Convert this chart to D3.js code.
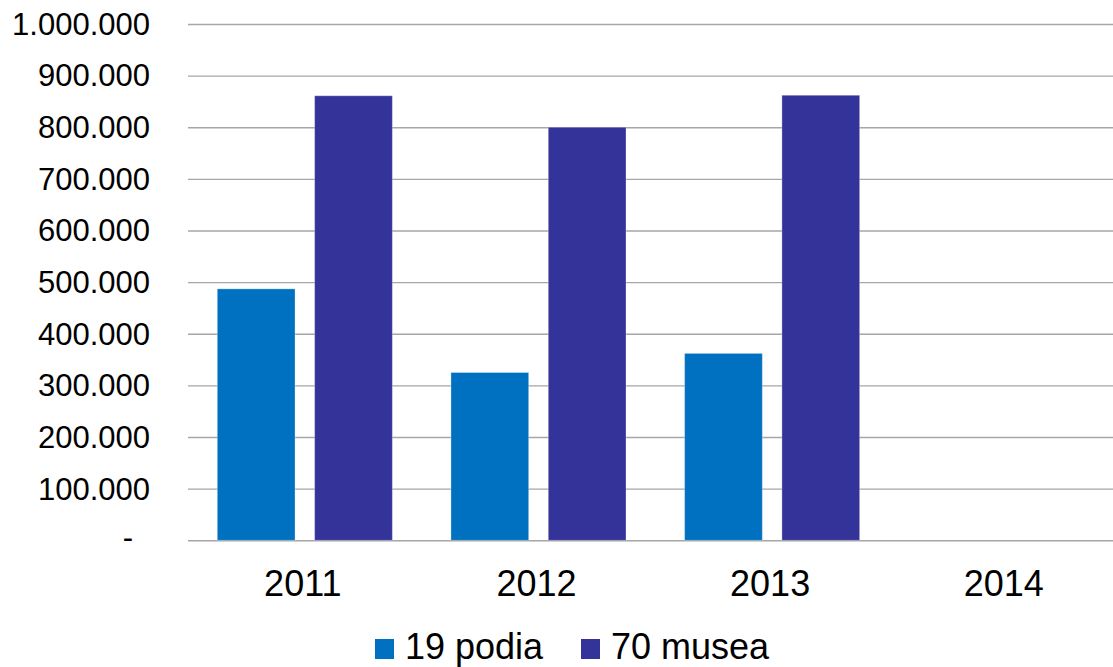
<!DOCTYPE html>
<html>
<head>
<meta charset="utf-8">
<script src="https://cdn.jsdelivr.net/npm/d3@7"></script>
<style>
  body { margin: 0; background: #fff; }
  svg { display: block; font-family: "Liberation Sans", Arial, sans-serif; }
  .grid line { stroke: #a6a6a6; stroke-width: 1.4; }
  .grid path { display: none; }
</style>
</head>
<body>
<div id="chart"></div>
<script>
"use strict";

var years = ["2011", "2012", "2013", "2014"];
var seriesNames = ["19 podia", "70 musea"];
var podia = [487000, 325000, 362000, null];
var musea = [861000, 800000, 862000, null];
var seriesColors = ["#0070c0", "#333399"];
var yTicks = [0, 100000, 200000, 300000, 400000, 500000, 600000, 700000, 800000, 900000, 1000000];

var svg_dx = 1113, svg_dy = 667;

var rows = years.map(function(y, i) {
    return {year: y, values: [podia[i], musea[i]]};
});

var svg = d3.select("#chart")
    .append("svg")
    .attr("width", svg_dx)
    .attr("height", svg_dy);

// plot runs past the right edge, as in the picture
var x0 = d3.scaleBand().domain(years).range([188, 1122.6]).padding(0),
    x1 = d3.scaleBand().domain([0, 1]).range([0, x0.bandwidth()])
        .paddingInner(0.2014).paddingOuter(0.301),
    y = d3.scaleLinear().domain([0, 1000000]).range([540.3, 24]);

var fmt = function(v) {
    if (v === 0) return "-";
    return d3.format(",")(v).replace(/,/g, ".");
};

// gridlines
svg.append("g")
    .attr("class", "grid")
    .attr("transform", "translate(188,0)")
    .call(d3.axisLeft(y).tickValues(yTicks).tickSize(-(svg_dx - 188)).tickFormat(""));

// y labels
svg.append("g")
    .selectAll("text")
    .data(yTicks)
    .enter()
    .append("text")
    .attr("x", d => d === 0 ? 133 : 150)
    .attr("y", d => y(d))
    .attr("dy", d => d === 0 ? "0.25em" : "0.35em")
    .attr("text-anchor", "end")
    .attr("font-size", 31)
    .attr("fill", "#000")
    .text(fmt);

// bars
var groups = svg.append("g")
    .selectAll("g")
    .data(rows)
    .enter()
    .append("g")
    .attr("transform", d => "translate(" + x0(d.year) + ",0)");

groups.selectAll("rect")
    .data(d => d.values.map((v, j) => ({v: v, j: j})).filter(e => e.v != null))
    .enter()
    .append("rect")
    .attr("x", d => x1(d.j))
    .attr("width", x1.bandwidth())
    .attr("y", d => y(d.v))
    .attr("height", d => y(0) - y(d.v))
    .attr("fill", d => seriesColors[d.j])
    .attr("stroke", "rgba(255,255,255,0.3)")
    .attr("stroke-width", 1);

// x labels
svg.append("g")
    .selectAll("text")
    .data(years)
    .enter()
    .append("text")
    .attr("x", d => x0(d) + x0.bandwidth() / 2 - 2)
    .attr("y", 596)
    .attr("text-anchor", "middle")
    .attr("font-size", 36)
    .attr("fill", "#000")
    .text(d => d);

// legend
var legendX = [375, 581];
var legend = svg.append("g")
    .selectAll("g")
    .data(seriesNames)
    .enter()
    .append("g")
    .attr("transform", (d, i) => "translate(" + legendX[i] + ",639)");

legend.append("rect")
    .attr("width", 19)
    .attr("height", 20)
    .attr("fill", (d, i) => seriesColors[i]);

legend.append("text")
    .attr("x", 30)
    .attr("y", 20)
    .attr("font-size", 36)
    .attr("fill", "#000")
    .text(d => d);
</script>
</body>
</html>
